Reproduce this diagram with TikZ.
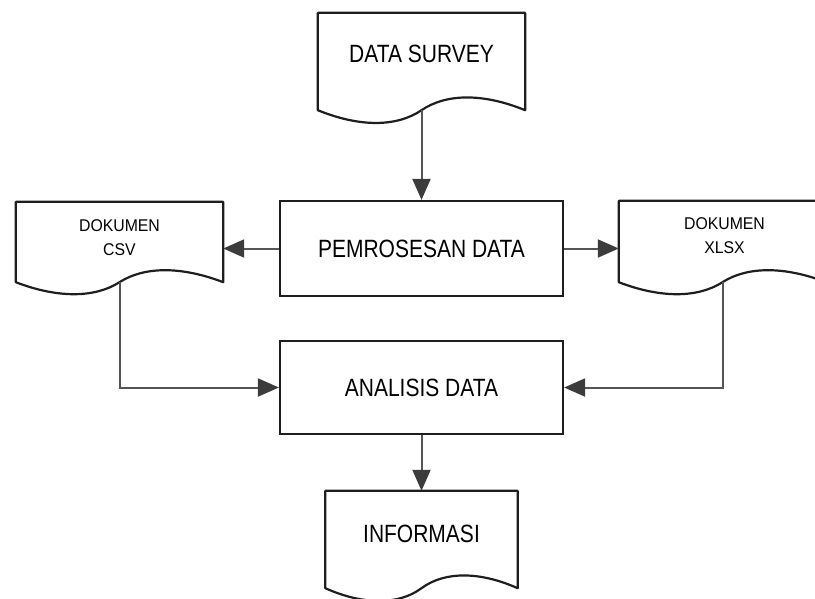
\documentclass[tikz,border=0pt]{standalone}
\usepackage{fontspec}
\setmainfont{Liberation Sans}
\newfontfamily\bigfont[FakeStretch=0.84]{Liberation Sans}
\newfontfamily\smallfont[FakeStretch=0.93]{Liberation Sans}
\usetikzlibrary{arrows.meta,calc}
\definecolor{outline}{HTML}{1E1E1E}
\definecolor{conn}{HTML}{555555}
\definecolor{tipc}{HTML}{3C3C3C}

% document symbol: straight top and sides, wavy bottom edge
% #1 node name, #2 outer control offset, #3 inner control offset, #4 wave height
\newcommand\docoutline[4]{%
  \draw[docline] (#1.north west) -- (#1.north east) -- (#1.south east)
    .. controls ($(#1.south)+(#2,-#4)$) and ($(#1.south)+(#3,-#4)$) .. (#1.south)
    .. controls ($(#1.south)+(-#3,#4)$) and ($(#1.south)+(-#2,#4)$) .. (#1.south west)
    -- cycle;}

\begin{document}
\begin{tikzpicture}[x=1pt,y=-1pt,
  docline/.style={draw=outline, line width=2.2pt, line join=round},
  proc/.style={draw=outline, line width=2.2pt, rectangle, inner sep=0pt,
    minimum width=283pt, text=black, font=\bigfont\fontsize{25}{30}\selectfont},
  docbox/.style={rectangle, draw=none, inner sep=0pt},
  bigtext/.style={inner sep=0pt, text=black, font=\bigfont\fontsize{25}{30}\selectfont},
  smalltext/.style={inner sep=0pt, align=center, text=black,
    font=\smallfont\fontsize{17}{24}\selectfont},
  flow/.style={draw=conn, line width=2pt,
    -{Triangle[length=21pt,width=18pt,color=tipc,fill=tipc]}},
]
\useasboundingbox (0,0) rectangle (815,598);
\clip (0,0) rectangle (815,598);

% process boxes
\node[proc, minimum height=95pt] (pd) at (421.5,248.5) {PEMROSESAN DATA};
\node[proc, minimum height=93pt] (ad) at (421.5,387.5) {ANALISIS DATA};

% document symbols (box spans top edge to wave mid-line)
\node[docbox, minimum width=207pt, minimum height=97pt] (ds) at (421.5,61.5) {};
\node[docbox, minimum width=207pt, minimum height=80pt] (csv) at (119.5,242) {};
\node[docbox, minimum width=207pt, minimum height=81pt] (xlsx) at (722.5,241.5) {};
\node[docbox, minimum width=192pt, minimum height=97pt] (info) at (421.5,539.5) {};

\docoutline{ds}{62}{25}{17}
\docoutline{csv}{62}{25}{16}
\docoutline{xlsx}{62}{25}{16}
\docoutline{info}{58}{23}{17}

% document labels
\node[bigtext] (dsT) at (421.5,54) {DATA SURVEY};
\node[smalltext] (csvT) at (119.5,238) {DOKUMEN\\CSV};
\node[smalltext] (xlsxT) at (724.5,236) {DOKUMEN\\XLSX};
\node[bigtext] (infoT) at (421.5,534) {INFORMASI};

% connectors
\draw[flow] (ds.south) -- (pd.north);
\draw[flow] (pd.west) -- (pd.west -| csv.east);
\draw[flow] (pd.east) -- (pd.east -| xlsx.west);
\draw[flow] (csv.south) |- (ad.west);
\draw[flow] (xlsx.south) |- (ad.east);
\draw[flow] (ad.south) -- (info.north);
\end{tikzpicture}
\end{document}
